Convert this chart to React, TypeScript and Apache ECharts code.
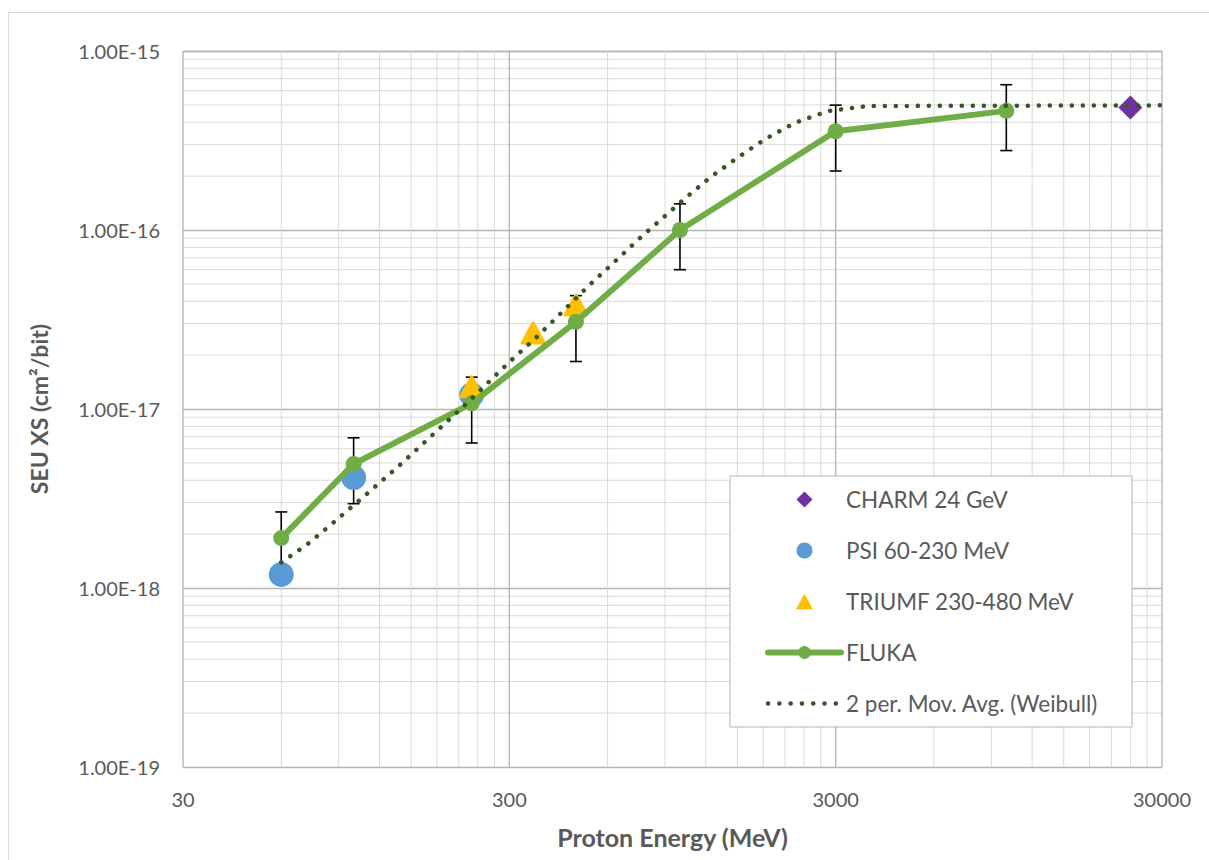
import React, { useEffect, useRef } from "react";
import * as echarts from "echarts";

// Proton energy (MeV) and SEU cross section (cm²/bit)
const CHARM_E = [24000];
const CHARM_XS = [4.83e-16];

const PSI_E = [60, 100, 230];
const PSI_XS = [1.19e-18, 4.14e-18, 1.2e-17];

const TRIUMF_E = [230, 355, 480];
const TRIUMF_XS = [1.33e-17, 2.66e-17, 3.81e-17];

const FLUKA_E = [60, 100, 230, 480, 1000, 3000, 10000];
const FLUKA_XS = [1.9e-18, 4.93e-18, 1.076e-17, 3.07e-17, 1.0e-16, 3.56e-16, 4.63e-16];
const FLUKA_ERR_PCT = 40;

// 2-period moving average of the Weibull fit
const WEIBULL_E = [60, 72, 86, 109, 138, 173, 218, 257, 299, 366, 441, 527, 629, 759, 906, 1031, 1239, 1503, 1824, 2244, 2841, 3771, 30000];
const WEIBULL_XS = [
  1.39e-18, 1.75e-18, 2.29e-18, 3.32e-18, 4.83e-18, 7.07e-18, 1.04e-17, 1.39e-17, 1.82e-17,
  2.55e-17, 3.56e-17, 4.91e-17, 6.62e-17, 9.12e-17, 1.21e-16, 1.49e-16, 1.97e-16, 2.54e-16,
  3.22e-16, 3.96e-16, 4.62e-16, 4.93e-16, 4.97e-16,
];

// Axis ticks and grid
const X_MIN = 30;
const X_MAX = 30000;
const Y_MIN = 1e-19;
const Y_MAX = 1e-15;
const X_MAJOR = [30, 300, 3000, 30000];
const X_MINOR = [
  60, 90, 120, 150, 180, 210, 240, 270,
  600, 900, 1200, 1500, 1800, 2100, 2400, 2700,
  6000, 9000, 12000, 15000, 18000, 21000, 24000, 27000,
];
const Y_DECADES = [-19, -18, -17, -16];
const Y_MINOR_MULT = [2, 3, 4, 5, 6, 7, 8, 9];

const FONT = "Lato, 'Liberation Sans', sans-serif";
const TEXT = "#595959";
const MAJOR = "#b3b3b3";
const MINOR = "#d9d9d9";

// legend glyphs that keep their square proportions inside the wide icon slot
const DIAMOND_ICON = "path://M8,0 L16,8 L8,16 L0,8 Z";
const TRIANGLE_ICON = "path://M8,0 L16,15 L0,15 Z";

const pair = (xs: number[], ys: number[]) => xs.map((x, i) => [x, ys[i]]);

export default function App() {
  const ref = useRef<HTMLDivElement>(null);

  useEffect(() => {
    if (!ref.current) return;
    const chart = echarts.init(ref.current, undefined, { renderer: "svg" });

    const yMinor: number[][] = [];
    Y_DECADES.forEach((d) => Y_MINOR_MULT.forEach((m) => yMinor.push([X_MIN, m * Math.pow(10, d)])));

    const pct = FLUKA_ERR_PCT / 100;
    const errData = FLUKA_E.map((e, i) => [e, FLUKA_XS[i] * (1 - pct), FLUKA_XS[i] * (1 + pct)]);

    const option: any = {
      animation: false,
      textStyle: { fontFamily: FONT },
      grid: { left: 183, top: 51, width: 979, height: 716, containLabel: false },
      xAxis: {
        type: "log",
        logBase: 10,
        min: X_MIN,
        max: X_MAX,
        name: "Proton Energy (MeV)",
        nameLocation: "middle",
        nameGap: 57,
        nameTextStyle: { color: TEXT, fontSize: 25, fontWeight: "bold", fontFamily: FONT },
        axisLine: { show: false },
        axisTick: { show: false },
        axisLabel: { show: false },
        splitLine: { show: false },
      },
      yAxis: {
        type: "log",
        logBase: 10,
        min: Y_MIN,
        max: Y_MAX,
        name: "SEU XS (cm²/bit)",
        nameLocation: "middle",
        nameRotate: 90,
        nameGap: 144,
        nameTextStyle: { color: TEXT, fontSize: 23, fontWeight: "bold", fontFamily: FONT, verticalAlign: "middle" },
        axisLine: { show: false },
        axisTick: { show: false },
        axisLabel: {
          color: TEXT,
          fontSize: 20,
          fontFamily: FONT,
          margin: 23,
          formatter: (v: number) => v.toExponential(2).toUpperCase(),
        },
        splitLine: { show: true, lineStyle: { color: MAJOR, width: 1.3 } },
      },
      legend: {
        orient: "vertical",
        left: 730,
        top: 476,
        padding: [12, 34, 12, 35],
        itemWidth: 73,
        itemHeight: 16,
        itemGap: 28,
        symbolKeepAspect: true,
        backgroundColor: "#ffffff",
        borderColor: "#b3b3b3",
        borderWidth: 1,
        selectedMode: false,
        textStyle: { color: TEXT, fontSize: 22.5, fontFamily: FONT, lineHeight: 22 },
        data: [
          { name: "CHARM 24 GeV", icon: DIAMOND_ICON, itemStyle: { color: "#7030a0", opacity: 1 } },
          { name: "PSI 60-230 MeV", icon: "circle", itemStyle: { color: "#5b9bd5", opacity: 1 } },
          { name: "TRIUMF 230-480 MeV", icon: TRIANGLE_ICON, itemStyle: { color: "#ffc000", opacity: 1, borderWidth: 0 } },
          { name: "FLUKA", lineStyle: { color: "#70ad47", width: 6, cap: "round" } },
          {
            name: "2 per. Mov. Avg. (Weibull)",
            lineStyle: { color: "#375623", width: 4.5, type: [0.1, 11.2], cap: "round" },
            itemStyle: { opacity: 0 },
          },
        ],
      },
      series: [
        {
          // light minor grid, horizontal
          name: "y minor grid",
          type: "custom",
          z: 1,
          silent: true,
          data: yMinor,
          renderItem: (params: any, api: any) => {
            const cs = params.coordSys;
            const y = api.coord([api.value(0), api.value(1)])[1];
            return {
              type: "line",
              shape: { x1: cs.x, y1: y, x2: cs.x + cs.width, y2: y },
              style: { stroke: MINOR, lineWidth: 1 },
            };
          },
        },
        {
          // light minor grid, vertical
          name: "x minor grid",
          type: "custom",
          z: 1,
          silent: true,
          data: X_MINOR.map((v) => [v, Y_MIN]),
          renderItem: (params: any, api: any) => {
            const cs = params.coordSys;
            const x = api.coord([api.value(0), api.value(1)])[0];
            return {
              type: "line",
              shape: { x1: x, y1: cs.y, x2: x, y2: cs.y + cs.height },
              style: { stroke: MINOR, lineWidth: 1 },
            };
          },
        },
        {
          // major vertical grid with the energy tick labels
          name: "x major grid",
          type: "custom",
          z: 1,
          silent: true,
          data: X_MAJOR.map((v) => [v, Y_MIN]),
          renderItem: (params: any, api: any) => {
            const cs = params.coordSys;
            const v = api.value(0);
            const x = api.coord([v, api.value(1)])[0];
            return {
              type: "group",
              children: [
                {
                  type: "line",
                  shape: { x1: x, y1: cs.y, x2: x, y2: cs.y + cs.height },
                  style: { stroke: MAJOR, lineWidth: 1.3 },
                },
                {
                  type: "text",
                  x,
                  y: cs.y + cs.height + 22,
                  style: {
                    text: String(Math.round(v)),
                    fill: TEXT,
                    fontSize: 20,
                    fontFamily: FONT,
                    align: "center",
                    verticalAlign: "top",
                  },
                },
              ],
            };
          },
        },
        {
          name: "FLUKA error",
          type: "custom",
          z: 2,
          silent: true,
          data: errData,
          encode: { x: 0, y: [1, 2] },
          renderItem: (_params: any, api: any) => {
            const x = api.value(0);
            const lo = api.coord([x, api.value(1)]);
            const hi = api.coord([x, api.value(2)]);
            const w = 6;
            const style = { stroke: "#000000", lineWidth: 1.6 };
            return {
              type: "group",
              children: [
                { type: "line", shape: { x1: lo[0], y1: lo[1], x2: hi[0], y2: hi[1] }, style },
                { type: "line", shape: { x1: lo[0] - w, y1: lo[1], x2: lo[0] + w, y2: lo[1] }, style },
                { type: "line", shape: { x1: hi[0] - w, y1: hi[1], x2: hi[0] + w, y2: hi[1] }, style },
              ],
            };
          },
        },
        {
          name: "CHARM 24 GeV",
          type: "scatter",
          z: 3,
          symbol: "diamond",
          symbolSize: 24,
          itemStyle: { color: "#7030a0", opacity: 1 },
          data: pair(CHARM_E, CHARM_XS),
        },
        {
          name: "PSI 60-230 MeV",
          type: "scatter",
          z: 3,
          symbol: "circle",
          symbolSize: 25,
          itemStyle: { color: "#5b9bd5", opacity: 1 },
          data: pair(PSI_E, PSI_XS),
        },
        {
          name: "TRIUMF 230-480 MeV",
          type: "scatter",
          z: 4,
          symbol: "triangle",
          symbolSize: [22, 20],
          itemStyle: { color: "#ffc000", opacity: 1, borderColor: "#ffc000", borderWidth: 3, borderJoin: "round" },
          data: pair(TRIUMF_E, TRIUMF_XS),
        },
        {
          name: "FLUKA",
          type: "line",
          z: 5,
          symbol: "circle",
          symbolSize: 16,
          showAllSymbol: true,
          lineStyle: { color: "#70ad47", width: 6, cap: "round", join: "round" },
          itemStyle: { color: "#70ad47", opacity: 1 },
          data: pair(FLUKA_E, FLUKA_XS),
        },
        {
          name: "2 per. Mov. Avg. (Weibull)",
          type: "line",
          z: 6,
          symbol: "none",
          lineStyle: { color: "#375623", width: 4.5, type: [0.1, 10.9], cap: "round" },
          itemStyle: { color: "#375623" },
          data: pair(WEIBULL_E, WEIBULL_XS),
        },
      ],
    };

    chart.setOption(option);
    return () => chart.dispose();
  }, []);

  return (
    <div style={{ position: "absolute", left: 0, top: 0, width: 1209, height: 860, background: "#ffffff", overflow: "hidden" }}>
      <div
        style={{
          position: "absolute",
          left: 8,
          top: 12,
          width: 1300,
          height: 900,
          borderLeft: "1px solid #d9d9d9",
          borderTop: "1px solid #d9d9d9",
        }}
      />
      <div ref={ref} style={{ position: "absolute", left: 0, top: 0, width: 1209, height: 860 }} />
    </div>
  );
}
